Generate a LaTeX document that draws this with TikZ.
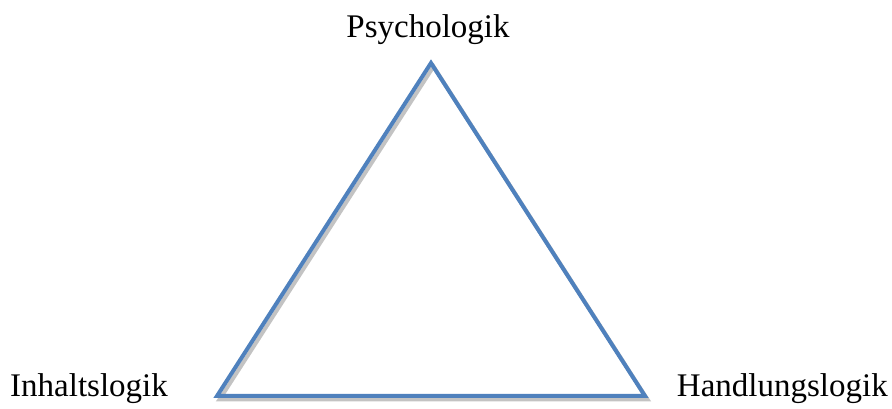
\documentclass[tikz,border=0pt]{standalone}
\usepackage{fontspec}
\setmainfont{Liberation Serif}
\begin{document}
\begin{tikzpicture}[x=1pt,y=1pt,
  edge/.style={draw={rgb,255:red,79;green,129;blue,189}, line width=4pt, line join=miter},
  shadowedge/.style={draw={rgb,255:red,195;green,195;blue,195}, line width=4pt, line join=miter},
  lbl/.style={font=\fontsize{33}{40}\selectfont, inner sep=0pt, anchor=base}]
\useasboundingbox (0,0) rectangle (892,409);
\coordinate (top) at (431,346);
\coordinate (bl) at (217,13);
\coordinate (br) at (645,13);
\draw[shadowedge] ([shift={(2.5,-3.5)}]top) -- ([shift={(2.5,-3.5)}]bl) -- ([shift={(2.5,-3.5)}]br) -- cycle;
\draw[edge] (top) -- (bl) -- (br) -- cycle;
\node[lbl] (p) at (428,371) {Psychologik};
\node[lbl, anchor=base west] (i) at (10,12) {Inhaltslogik};
\node[lbl, anchor=base east] (h) at (888,12) {Handlungslogik};
\end{tikzpicture}
\end{document}
